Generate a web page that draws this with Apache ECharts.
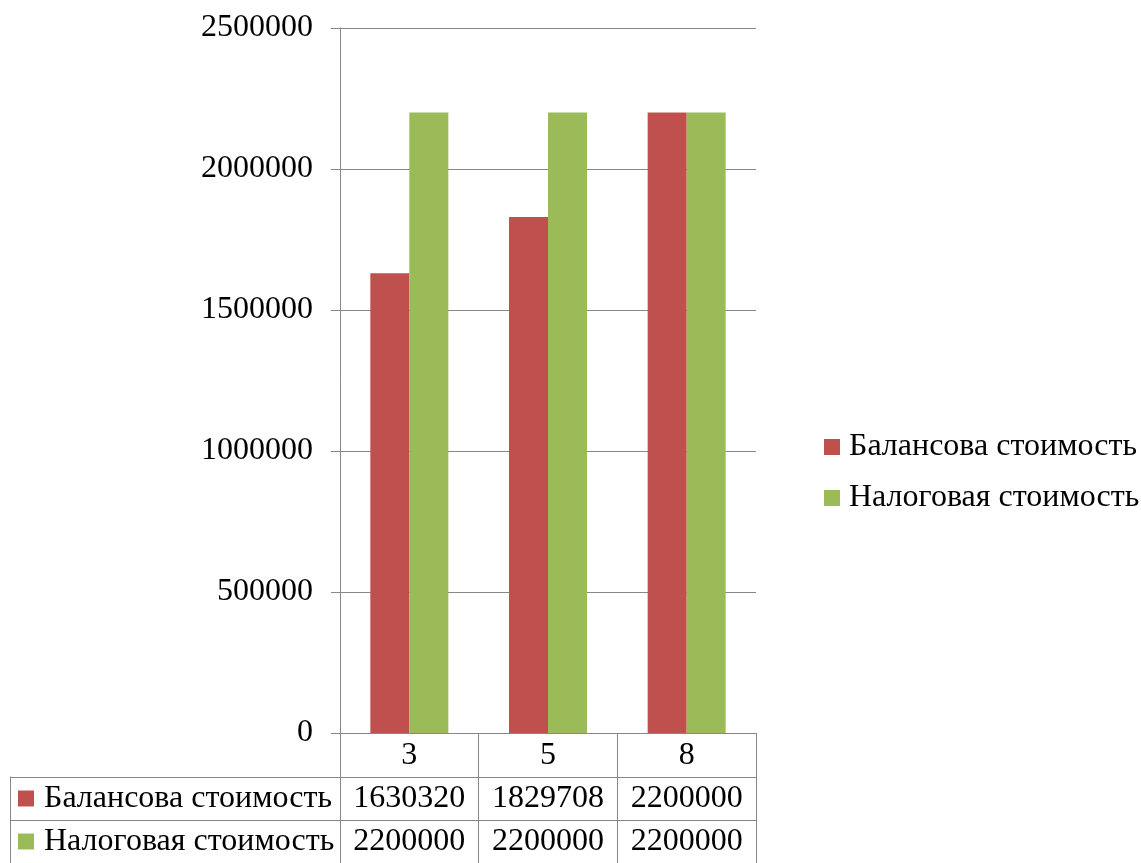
<!DOCTYPE html>
<html>
<head>
<meta charset="utf-8">
<script src="https://cdn.jsdelivr.net/npm/echarts@6/dist/echarts.min.js"></script>
<style>
  html, body { margin: 0; padding: 0; background: #fff; }
  #chart { width: 1141px; height: 863px; }
</style>
</head>
<body>
<div id="chart"></div>
<script>
// Years of useful life on the category axis
const categories = ['3', '5', '8'];
// Series names and values
const seriesNames = ['Балансова стоимость', 'Налоговая стоимость'];
const balanceValues = [1630320, 1829708, 2200000];
const taxValues = [2200000, 2200000, 2200000];
const seriesColors = ['#C0504D', '#9BBB59'];

const FONT = 'Liberation Serif';
const GRID_COLOR = '#878787';

const chart = echarts.init(document.getElementById('chart'));

// Cells of the data table under the chart: [column, row, value]
const tableCells = [];
[balanceValues, taxValues].forEach((vals, r) => {
  vals.forEach((v, c) => tableCells.push([c, r, v]));
});

chart.setOption({
  backgroundColor: '#fff',
  animation: false,
  textStyle: { fontFamily: FONT, color: '#000' },
  legend: {
    orient: 'vertical',
    left: 824,
    top: 431,
    padding: 0,
    itemWidth: 16,
    itemHeight: 16,
    itemGap: 19,
    icon: 'rect',
    data: seriesNames,
    textStyle: { fontFamily: FONT, fontSize: 32, lineHeight: 32, color: '#000', padding: [0, 0, 0, 4] }
  },
  grid: [
    // chart area
    { left: 340, right: 385, top: 28, bottom: 130 },
    // data table rows
    { left: 340, right: 385, top: 777, height: 86 }
  ],
  xAxis: [
    {
      gridIndex: 0,
      type: 'category',
      data: categories,
      axisLine: { show: true, lineStyle: { color: GRID_COLOR, width: 1 } },
      axisTick: { show: true, length: 130, lineStyle: { color: GRID_COLOR, width: 1 } },
      axisLabel: { fontFamily: FONT, fontSize: 32, lineHeight: 32, color: '#000', margin: 7 },
      splitLine: { show: false }
    },
    {
      gridIndex: 1,
      type: 'category',
      data: categories,
      show: false
    }
  ],
  yAxis: [
    {
      gridIndex: 0,
      type: 'value',
      min: 0,
      max: 2500000,
      interval: 500000,
      axisLine: { show: true, lineStyle: { color: GRID_COLOR, width: 1 } },
      axisTick: { show: true, length: 9, lineStyle: { color: GRID_COLOR, width: 1 } },
      axisLabel: { fontFamily: FONT, fontSize: 32, color: '#000', margin: 27, formatter: v => String(v) },
      splitLine: { show: true, lineStyle: { color: GRID_COLOR, width: 1 } }
    },
    {
      // row headers of the table with colour keys
      gridIndex: 1,
      type: 'category',
      inverse: true,
      data: seriesNames,
      axisLine: { show: true, lineStyle: { color: GRID_COLOR, width: 1 } },
      axisTick: { show: true, length: 330, lineStyle: { color: GRID_COLOR, width: 1 } },
      splitLine: { show: true, lineStyle: { color: GRID_COLOR, width: 1 } },
      axisLabel: {
        margin: 322,
        align: 'left',
        fontFamily: FONT,
        fontSize: 32,
        formatter: (name, idx) => '{k' + idx + '|}{t|' + name + '}',
        rich: {
          k0: { width: 16, height: 16, backgroundColor: seriesColors[0] },
          k1: { width: 16, height: 16, backgroundColor: seriesColors[1] },
          t: { fontFamily: FONT, fontSize: 32, color: '#000', padding: [0, 0, 0, 10] }
        }
      }
    },
    {
      // left border of the table
      gridIndex: 1,
      type: 'category',
      inverse: true,
      data: seriesNames,
      position: 'left',
      offset: 330,
      axisLine: { show: true, lineStyle: { color: GRID_COLOR, width: 1 } },
      axisTick: { show: false },
      axisLabel: { show: false },
      splitLine: { show: false }
    }
  ],
  series: [
    {
      name: seriesNames[0],
      type: 'bar',
      xAxisIndex: 0,
      yAxisIndex: 0,
      data: balanceValues,
      barWidth: 39,
      barGap: '0%',
      itemStyle: { color: seriesColors[0] }
    },
    {
      name: seriesNames[1],
      type: 'bar',
      xAxisIndex: 0,
      yAxisIndex: 0,
      data: taxValues,
      barWidth: 39,
      barGap: '0%',
      itemStyle: { color: seriesColors[1] }
    },
    {
      // values written in the table cells
      type: 'custom',
      xAxisIndex: 1,
      yAxisIndex: 1,
      data: tableCells,
      silent: true,
      renderItem: (params, api) => {
        const p = api.coord([api.value(0), api.value(1)]);
        return {
          type: 'text',
          style: {
            text: String(api.value(2)),
            x: p[0],
            y: p[1],
            align: 'center',
            verticalAlign: 'middle',
            fontFamily: FONT,
            fontSize: 32,
            fill: '#000'
          }
        };
      }
    }
  ]
});
</script>
</body>
</html>
